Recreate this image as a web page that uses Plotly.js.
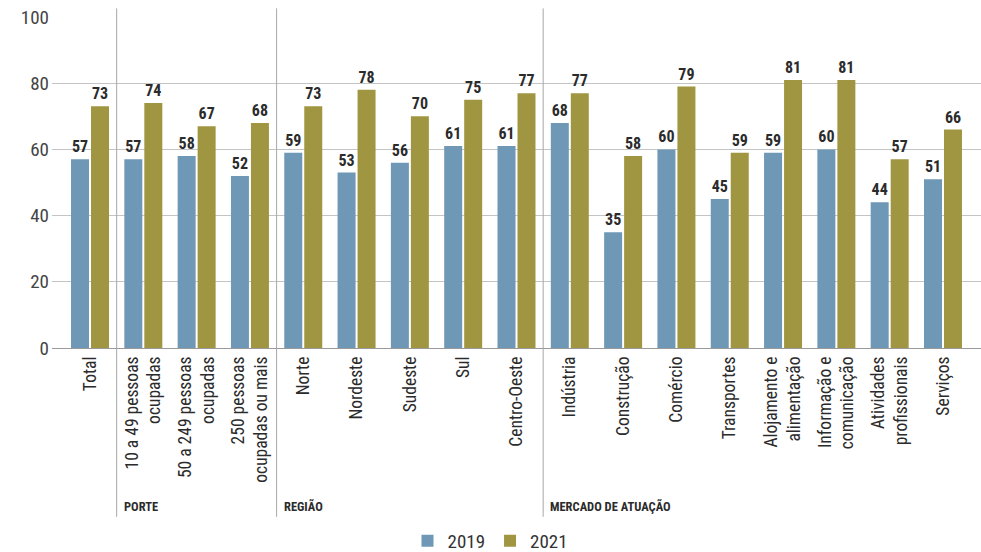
<!DOCTYPE html>
<html>
<head>
<meta charset="utf-8">
<script src="https://cdn.plot.ly/plotly-3.0.1.min.js"></script>
<style>html,body{margin:0;padding:0;background:#fff;}#chart{width:981px;height:552px;}</style>
</head>
<body>
<div id="chart"></div>
<script>
const categories = ["Total","10 a 49 pessoas<br>ocupadas","50 a 249 pessoas<br>ocupadas","250 pessoas<br>ocupadas ou mais","Norte","Nordeste","Sudeste","Sul","Centro-Oeste","Indústria","Construção","Comércio","Transportes","Alojamento e<br>alimentação","Informação e<br>comunicação","Atividades<br>profissionais","Serviços"];
const values2019 = [57,57,58,52,59,53,56,61,61,68,35,60,45,59,60,44,51];
const values2021 = [73,74,67,68,73,78,70,75,77,77,58,79,59,81,81,57,66];
const groupLabels = ["PORTE","REGIÃO","MERCADO DE ATUAÇÃO"];
const groupStarts = [0.5,3.5,8.5];
const seriesNames = ["2019","2021"];

const FONT = "'Roboto Condensed','Liberation Sans Narrow','DejaVu Sans Condensed',sans-serif";
const idx = categories.map((_, i) => i);

const traces = [
  {type:'bar', name:seriesNames[0], x:idx, y:values2019, marker:{color:'#6f97b6'},
   text:values2019.map(String), textposition:'outside', cliponaxis:false,
   textfont:{family:FONT, size:16, color:'#2b2b2b', weight:'bold'}, hoverinfo:'skip'},
  {type:'bar', name:seriesNames[1], x:idx, y:values2021, marker:{color:'#a09642'},
   text:values2021.map(String), textposition:'outside', cliponaxis:false,
   textfont:{family:FONT, size:16, color:'#2b2b2b', weight:'bold'}, hoverinfo:'skip'}
];

const shapes = groupStarts.map(x => ({type:'line', xref:'x', yref:'paper', x0:x, x1:x, y0:-0.51, y1:1.026, line:{color:'#a8a8a8', width:1}}));
const annotations = groupLabels.map((t, i) => ({text:'<b>'+t+'</b>', xref:'x', yref:'paper', x:groupStarts[i], y:-0.48, xanchor:'left', yanchor:'middle', xshift:5, showarrow:false, font:{family:FONT, size:12.5, color:'#2b2b2b'}}));

const layout = {
  width:981, height:552,
  margin:{l:52, r:0, t:17, b:204},
  paper_bgcolor:'#fff', plot_bgcolor:'#fff',
  barmode:'group', bargap:0.25, bargroupgap:0.1,
  font:{family:FONT, color:'#333'},
  xaxis:{range:[-0.713,16.713], tickmode:'array', tickvals:idx, ticktext:categories, tickangle:-90, automargin:false,
         tickfont:{family:FONT, size:17.5, color:'#2b2b2b'}, ticklabelstandoff:4, showgrid:false, zeroline:false, showline:false, ticks:''},
  yaxis:{range:[0,100], tickvals:[0,20,40,60,80,100], tickfont:{family:FONT, size:19, color:'#444'}, ticklabelstandoff:2, automargin:false,
         showgrid:true, gridcolor:'#c4c4c4', gridwidth:1, zeroline:true, zerolinecolor:'#9a9a9a', zerolinewidth:1, ticks:'', showline:false, fixedrange:true},
  legend:{orientation:'h', xref:'container', yref:'container', x:0.5, xanchor:'center', y:0.02, yanchor:'middle', font:{family:FONT, size:19, color:'#333'}, traceorder:'normal', itemwidth:30},
  shapes:shapes, annotations:annotations, showlegend:true
};

Plotly.newPlot('chart', traces, layout, {displayModeBar:false, staticPlot:true});
</script>
</body>
</html>
